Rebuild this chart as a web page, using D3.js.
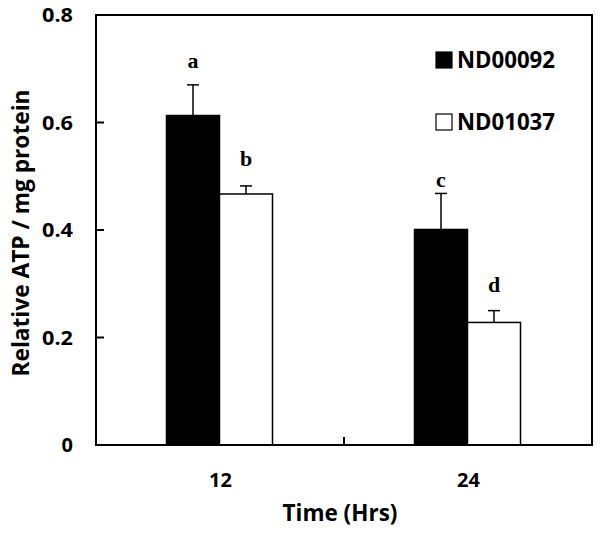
<!DOCTYPE html>
<html>
<head>
<meta charset="utf-8">
<script src="https://cdn.jsdelivr.net/npm/d3@7"></script>
<style>
  body { margin: 0; background: #fff; }
  svg { display: block; }
  .tick-label { font-family: "Open Sans", Lato, sans-serif; font-weight: bold; font-size: 20px; fill: #000; }
  .axis-title { font-family: "Open Sans", Lato, sans-serif; font-weight: bold; font-size: 23px; fill: #000; }
  .legend-text { font-family: "Open Sans", Lato, sans-serif; font-weight: bold; font-size: 23px; fill: #000; }
  .sig { font-family: "Liberation Serif", "Times New Roman", serif; font-weight: bold; font-size: 22px; fill: #000; }
</style>
</head>
<body>
<div id="chart"></div>
<script>
// data
const times = ["12", "24"];
const strains = ["ND00092", "ND01037"];
const meanND00092 = [0.613, 0.401];
const meanND01037 = [0.467, 0.228];
const errND00092 = [0.057, 0.067];
const errND01037 = [0.015, 0.022];
const sigLetters = [["a", "b"], ["c", "d"]];
const sigLabelAt = [[0.701, 0.519], [0.480, 0.285]];
const yTicks = [0, 0.2, 0.4, 0.6, 0.8];

const width = 601, height = 533;
const plotLeft = 96, plotRight = 592, plotTop = 15, plotBottom = 445;

const svg = d3.select("#chart").append("svg")
    .attr("width", width).attr("height", height);

const x = d3.scaleBand().domain(times).range([plotLeft, plotRight]);
const xs = d3.scaleBand().domain(strains).range([0, 106]);
const y = d3.scaleLinear().domain([0, 0.8]).range([plotBottom, plotTop]);

const rows = times.map((t, i) => ({
    time: t,
    bars: [
        { strain: strains[0], v: meanND00092[i], e: errND00092[i], fill: "#000", letter: sigLetters[i][0], lab: sigLabelAt[i][0] },
        { strain: strains[1], v: meanND01037[i], e: errND01037[i], fill: "#fff", letter: sigLetters[i][1], lab: sigLabelAt[i][1] }
    ]
}));

const groups = svg.selectAll("g.grp").data(rows).join("g")
    .attr("class", "grp")
    .attr("transform", d => `translate(${x(d.time) + x.bandwidth() / 2 - 53.5},0)`);

const bar = groups.selectAll("g.bar").data(d => d.bars).join("g").attr("class", "bar");

// error bars (upper only)
bar.append("line")
    .attr("x1", d => xs(d.strain) + xs.bandwidth() / 2)
    .attr("x2", d => xs(d.strain) + xs.bandwidth() / 2)
    .attr("y1", d => y(d.v)).attr("y2", d => y(d.v + d.e))
    .attr("stroke", "#000").attr("stroke-width", 1.5);
bar.append("line")
    .attr("x1", d => xs(d.strain) + xs.bandwidth() / 2 - 6)
    .attr("x2", d => xs(d.strain) + xs.bandwidth() / 2 + 6)
    .attr("y1", d => y(d.v + d.e)).attr("y2", d => y(d.v + d.e))
    .attr("stroke", "#000").attr("stroke-width", 1.5);

bar.append("rect")
    .attr("x", d => xs(d.strain))
    .attr("width", xs.bandwidth())
    .attr("y", d => y(d.v))
    .attr("height", d => y(0) - y(d.v))
    .attr("fill", d => d.fill)
    .attr("stroke", "#000").attr("stroke-width", 1.5);

bar.append("text")
    .attr("class", "sig")
    .attr("x", d => xs(d.strain) + xs.bandwidth() / 2)
    .attr("y", d => y(d.lab))
    .attr("text-anchor", "middle")
    .text(d => d.letter);

// frame
svg.append("rect")
    .attr("x", plotLeft).attr("y", plotTop)
    .attr("width", plotRight - plotLeft).attr("height", plotBottom - plotTop)
    .attr("fill", "none").attr("stroke", "#000").attr("stroke-width", 2);

// y ticks (inward)
svg.selectAll("line.ytick").data(yTicks.slice(1, -1)).join("line")
    .attr("x1", plotLeft).attr("x2", plotLeft + 8)
    .attr("y1", d => y(d)).attr("y2", d => y(d))
    .attr("stroke", "#000").attr("stroke-width", 2);
svg.selectAll("text.ylab").data(yTicks).join("text")
    .attr("class", "tick-label")
    .attr("x", 73).attr("y", d => y(d))
    .attr("dy", "0.36em")
    .attr("text-anchor", "end")
    .each(function (d) {
        const t = d3.select(this).text(d === 0 ? "0" : d3.format(".1f")(d));
        if (d !== 0) t.attr("textLength", 31).attr("lengthAdjust", "spacingAndGlyphs");
    });

// x tick between groups
svg.append("line")
    .attr("x1", x("24")).attr("x2", x("24"))
    .attr("y1", plotBottom).attr("y2", plotBottom - 8)
    .attr("stroke", "#000").attr("stroke-width", 2);
svg.selectAll("text.xlab").data(times).join("text")
    .attr("class", "tick-label")
    .attr("x", d => x(d) + x.bandwidth() / 2 + 0.5)
    .attr("y", 487)
    .attr("text-anchor", "middle")
    .text(d => d);

svg.append("text").attr("class", "axis-title")
    .attr("x", 340).attr("y", 521)
    .attr("text-anchor", "middle")
    .attr("textLength", 115).attr("lengthAdjust", "spacingAndGlyphs")
    .text("Time (Hrs)");

svg.append("text").attr("class", "axis-title")
    .attr("transform", "translate(29,233) rotate(-90)")
    .attr("text-anchor", "middle")
    .attr("textLength", 287).attr("lengthAdjust", "spacingAndGlyphs")
    .text("Relative ATP / mg protein");

// legend
const legend = svg.selectAll("g.leg").data(strains).join("g")
    .attr("class", "leg")
    .attr("transform", (d, i) => `translate(436,${51 + i * 62})`);
legend.append("rect")
    .attr("x", 0).attr("y", 1).attr("width", 16).attr("height", 16)
    .attr("fill", (d, i) => i === 0 ? "#000" : "#fff")
    .attr("stroke", "#000").attr("stroke-width", 1.2);
legend.append("text")
    .attr("class", "legend-text")
    .attr("x", 21).attr("y", 17)
    .attr("textLength", 98).attr("lengthAdjust", "spacingAndGlyphs")
    .text(d => d);
</script>
</body>
</html>
